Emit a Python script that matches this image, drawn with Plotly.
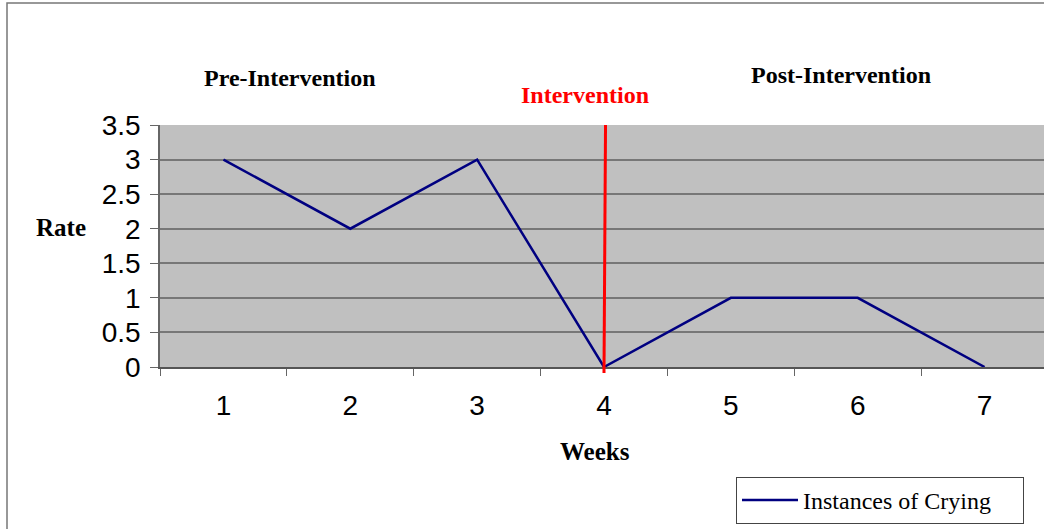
import plotly.graph_objects as go

weeks = ["1", "2", "3", "4", "5", "6", "7"]
crying = [3, 2, 3, 0, 1, 1, 0]
y_ticks = [0, 0.5, 1, 1.5, 2, 2.5, 3, 3.5]
y_tick_text = ["0", "0.5", "1", "1.5", "2", "2.5", "3", "3.5"]
intervention_week_index = 3  # week "4"

W, H = 1048, 529
L, R, T, B = 160, 0, 125, 162
pw, ph = W - L - R, H - T - B

def px(x):
    return (x - L) / pw

def py(y):
    return (H - B - y) / ph

fig = go.Figure()
fig.add_trace(go.Scatter(
    x=weeks, y=crying, mode="lines", name="Instances of Crying",
    line=dict(color="#000080", width=2.5),
))

fig.update_layout(
    width=W, height=H,
    margin=dict(l=L, r=R, t=T, b=B, pad=0, autoexpand=False),
    paper_bgcolor="white", plot_bgcolor="#c0c0c0",
    showlegend=True,
    legend=dict(
        x=px(736), y=py(477), xanchor="left", yanchor="top",
        orientation="h", entrywidth=215, itemwidth=56,
        bordercolor="#444", borderwidth=1, bgcolor="white",
        font=dict(family="Liberation Serif", size=24, color="black"),
    ),
    xaxis=dict(
        type="category", tickson="boundaries", ticks="outside", ticklen=7,
        tickcolor="#666", showgrid=False, showline=True, linecolor="#555",
        linewidth=2, tickfont=dict(family="Liberation Sans", size=28, color="black"),
        ticklabelstandoff=12, range=[-0.5, 6.5], fixedrange=True,
    ),
    yaxis=dict(
        range=[0, 3.5], tickvals=y_ticks, ticktext=y_tick_text,
        ticks="outside", ticklen=8, tickcolor="#666",
        showgrid=True, gridcolor="#777", gridwidth=1.5,
        showline=True, linecolor="#666", linewidth=1.5, zeroline=False,
        tickfont=dict(family="Liberation Sans", size=28, color="black"),
        ticklabelstandoff=4,
    ),
)

# red intervention line
fig.add_shape(type="line", xref="x", yref="paper",
              x0=intervention_week_index, x1=intervention_week_index + 0.012,
              y0=-0.025, y1=1.0, line=dict(color="red", width=3), layer="above")

# outer border
fig.add_shape(type="rect", xref="paper", yref="paper",
              x0=px(7), x1=px(1070), y0=py(540), y1=py(3),
              line=dict(color="#777", width=1.5), layer="below")

anns = [
    ("Pre-Intervention", 290, 78, "black"),
    ("Intervention", 585, 95, "red"),
    ("Post-Intervention", 841, 75, "black"),
]
for text, x, y, col in anns:
    fig.add_annotation(text="<b>%s</b>" % text, x=px(x), y=py(y), xref="paper", yref="paper",
                       showarrow=False, xanchor="center", yanchor="middle",
                       font=dict(family="Liberation Serif", size=24, color=col))

fig.add_annotation(text="<b>Rate</b>", x=px(61), y=py(227), xref="paper", yref="paper",
                   showarrow=False, xanchor="center", yanchor="middle",
                   font=dict(family="Liberation Serif", size=25, color="black"))
fig.add_annotation(text="<b>Weeks</b>", x=px(595), y=py(451), xref="paper", yref="paper",
                   showarrow=False, xanchor="center", yanchor="middle",
                   font=dict(family="Liberation Serif", size=25, color="black"))

fig.write_html("out.html", config={"displayModeBar": False},
               post_script="document.body.style.margin='0';document.body.style.overflow='hidden';")
